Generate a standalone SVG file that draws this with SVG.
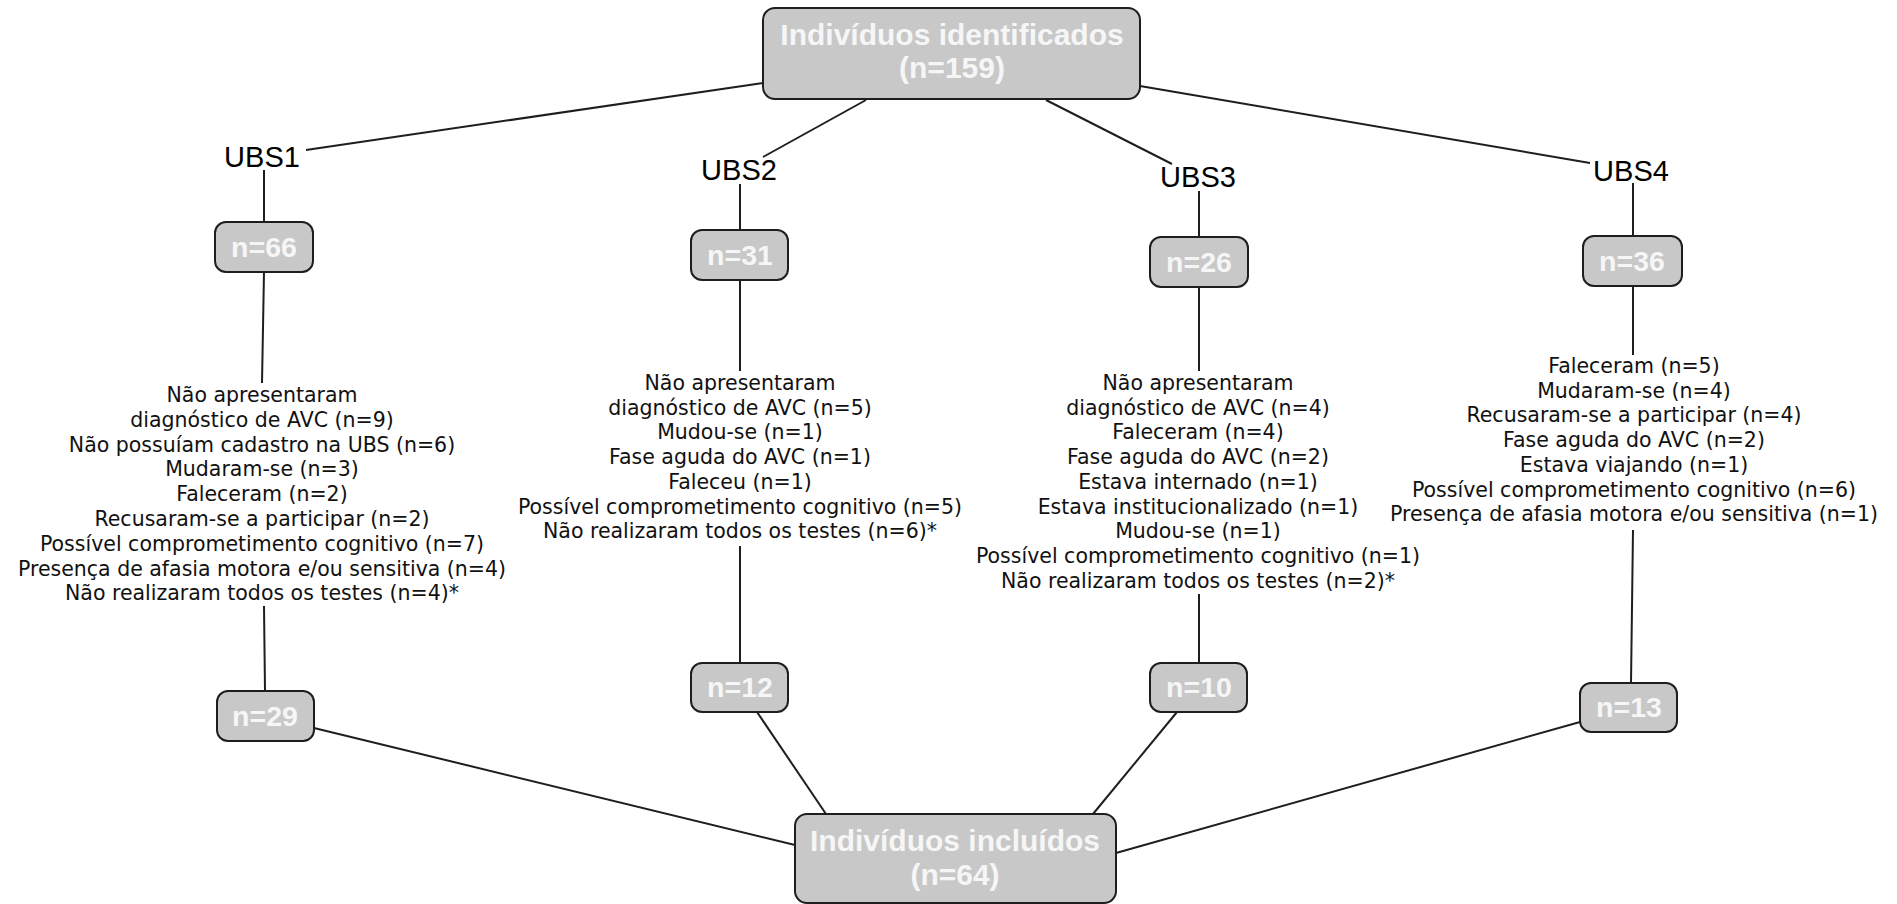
<svg xmlns="http://www.w3.org/2000/svg" width="1897" height="904" viewBox="0 0 1897 904">
<style>
.box{fill:#c8c8c8;stroke:#1e1e1e;stroke-width:2}
.big{font-family:"Liberation Sans",Arial,sans-serif;font-weight:bold;font-size:30px;fill:#f6f6f6;text-anchor:middle}
.n{font-family:"Liberation Sans",Arial,sans-serif;font-weight:bold;font-size:28.5px;fill:#f6f6f6;text-anchor:middle}
.ubs{font-family:"Liberation Sans",Arial,sans-serif;font-size:29px;fill:#000;text-anchor:middle}
.lst{font-family:"DejaVu Sans",Verdana,sans-serif;font-size:20.5px;fill:#111;text-anchor:middle}
.ln{stroke:#1e1e1e;stroke-width:2;fill:none}
</style>
<rect width="1897" height="904" fill="#fff"/>
<g id="connectors">
<line class="ln" x1="306" y1="150" x2="763" y2="83"/>
<line class="ln" x1="763" y1="157" x2="866" y2="100"/>
<line class="ln" x1="1172" y1="164" x2="1046" y2="100"/>
<line class="ln" x1="1590" y1="163" x2="1140" y2="86"/>
<line class="ln" x1="264" y1="170" x2="264" y2="222"/>
<line class="ln" x1="740" y1="184" x2="740" y2="230"/>
<line class="ln" x1="1199" y1="191" x2="1199" y2="237"/>
<line class="ln" x1="1633" y1="183" x2="1633" y2="236"/>
<line class="ln" x1="264" y1="272" x2="262" y2="383"/>
<line class="ln" x1="740" y1="280" x2="740" y2="371"/>
<line class="ln" x1="1199" y1="287" x2="1199" y2="371"/>
<line class="ln" x1="1633" y1="286" x2="1633" y2="355"/>
<line class="ln" x1="264" y1="606" x2="265" y2="691"/>
<line class="ln" x1="740" y1="546" x2="740" y2="663"/>
<line class="ln" x1="1199" y1="594" x2="1199" y2="663"/>
<line class="ln" x1="1633" y1="530" x2="1631" y2="683"/>
<line class="ln" x1="314" y1="728" x2="795" y2="845"/>
<line class="ln" x1="757" y1="712" x2="826" y2="814"/>
<line class="ln" x1="1177" y1="712" x2="1093" y2="814"/>
<line class="ln" x1="1580" y1="722" x2="1116" y2="853"/>
</g>
<g id="identificados">
<rect class="box" x="763" y="8" width="377" height="91" rx="12"/>
<text class="big" x="952" y="45">Indivíduos identificados</text>
<text class="big" x="952" y="78">(n=159)</text>
</g>
<g id="ubs1"><text class="ubs" x="262" y="167">UBS1</text></g>
<g id="ubs2"><text class="ubs" x="739" y="180">UBS2</text></g>
<g id="ubs3"><text class="ubs" x="1198" y="187">UBS3</text></g>
<g id="ubs4"><text class="ubs" x="1631" y="181">UBS4</text></g>
<g id="n66"><rect class="box" x="215" y="222" width="98" height="50" rx="11"/><text class="n" x="264" y="257">n=66</text></g>
<g id="n31"><rect class="box" x="691" y="230" width="97" height="50" rx="11"/><text class="n" x="740" y="265">n=31</text></g>
<g id="n26"><rect class="box" x="1150" y="237" width="98" height="50" rx="11"/><text class="n" x="1199" y="272">n=26</text></g>
<g id="n36"><rect class="box" x="1583" y="236" width="99" height="50" rx="11"/><text class="n" x="1632" y="271">n=36</text></g>
<g id="excl1" class="lst">
<text x="262" y="402">Não apresentaram</text>
<text x="262" y="426.8">diagnóstico de AVC (n=9)</text>
<text x="262" y="451.6">Não possuíam cadastro na UBS (n=6)</text>
<text x="262" y="476.4">Mudaram-se (n=3)</text>
<text x="262" y="501.2">Faleceram (n=2)</text>
<text x="262" y="526">Recusaram-se a participar (n=2)</text>
<text x="262" y="550.8">Possível comprometimento cognitivo (n=7)</text>
<text x="262" y="575.6">Presença de afasia motora e/ou sensitiva (n=4)</text>
<text x="262" y="600.4">Não realizaram todos os testes (n=4)*</text>
</g>
<g id="excl2" class="lst">
<text x="740" y="390">Não apresentaram</text>
<text x="740" y="414.7">diagnóstico de AVC (n=5)</text>
<text x="740" y="439.4">Mudou-se (n=1)</text>
<text x="740" y="464.1">Fase aguda do AVC (n=1)</text>
<text x="740" y="488.8">Faleceu (n=1)</text>
<text x="740" y="513.5">Possível comprometimento cognitivo (n=5)</text>
<text x="740" y="538.2">Não realizaram todos os testes (n=6)*</text>
</g>
<g id="excl3" class="lst">
<text x="1198" y="390">Não apresentaram</text>
<text x="1198" y="414.7">diagnóstico de AVC (n=4)</text>
<text x="1198" y="439.4">Faleceram (n=4)</text>
<text x="1198" y="464.1">Fase aguda do AVC (n=2)</text>
<text x="1198" y="488.8">Estava internado (n=1)</text>
<text x="1198" y="513.5">Estava institucionalizado (n=1)</text>
<text x="1198" y="538.2">Mudou-se (n=1)</text>
<text x="1198" y="562.9">Possível comprometimento cognitivo (n=1)</text>
<text x="1198" y="587.6">Não realizaram todos os testes (n=2)*</text>
</g>
<g id="excl4" class="lst">
<text x="1634" y="373">Faleceram (n=5)</text>
<text x="1634" y="397.7">Mudaram-se (n=4)</text>
<text x="1634" y="422.4">Recusaram-se a participar (n=4)</text>
<text x="1634" y="447.1">Fase aguda do AVC (n=2)</text>
<text x="1634" y="471.8">Estava viajando (n=1)</text>
<text x="1634" y="496.5">Possível comprometimento cognitivo (n=6)</text>
<text x="1634" y="521.2">Presença de afasia motora e/ou sensitiva (n=1)</text>
</g>
<g id="n29"><rect class="box" x="217" y="691" width="97" height="50" rx="11"/><text class="n" x="265" y="726">n=29</text></g>
<g id="n12"><rect class="box" x="691" y="663" width="97" height="49" rx="11"/><text class="n" x="740" y="697">n=12</text></g>
<g id="n10"><rect class="box" x="1150" y="663" width="97" height="49" rx="11"/><text class="n" x="1199" y="697">n=10</text></g>
<g id="n13"><rect class="box" x="1580" y="683" width="97" height="49" rx="11"/><text class="n" x="1629" y="717">n=13</text></g>
<g id="incluidos">
<rect class="box" x="795" y="814" width="321" height="89" rx="12"/>
<text class="big" x="955" y="851">Indivíduos incluídos</text>
<text class="big" x="955" y="885">(n=64)</text>
</g>
</svg>
